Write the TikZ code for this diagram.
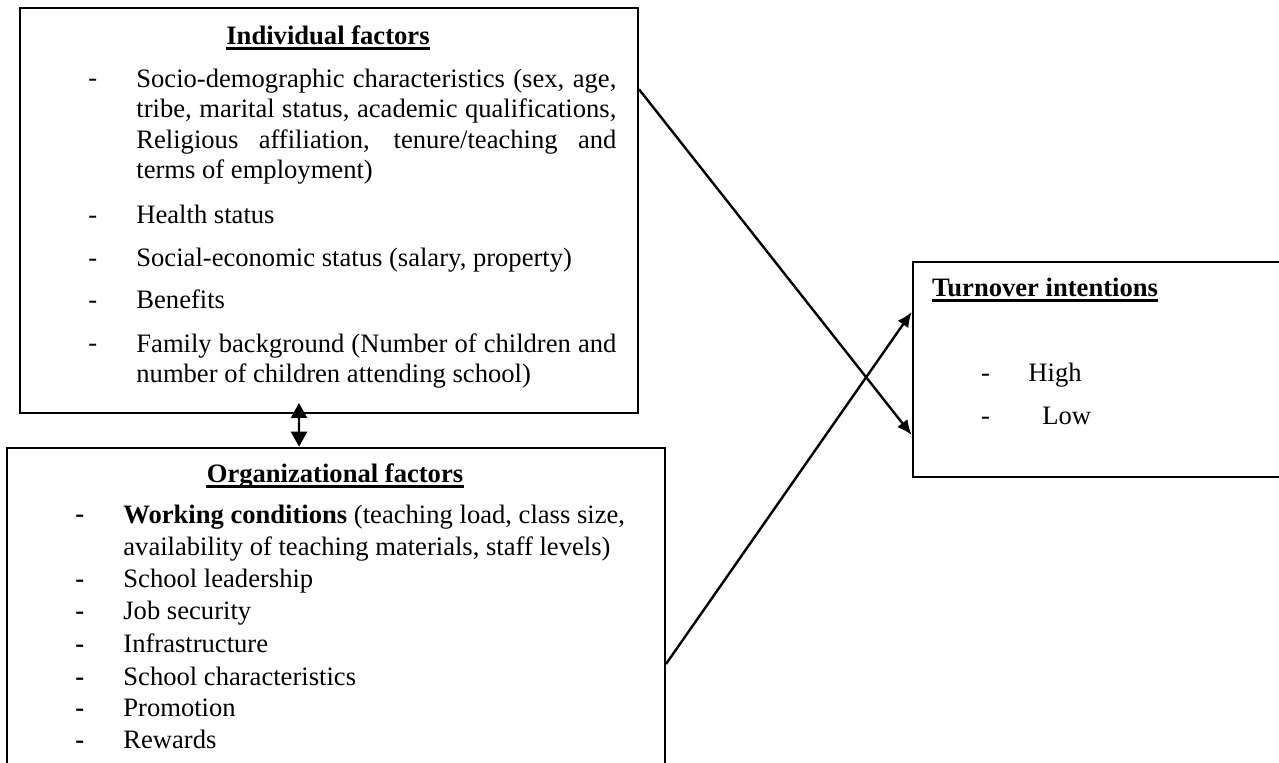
\documentclass[tikz,border=0pt]{standalone}
\usepackage{fontspec}
\setmainfont{Liberation Serif}
\usetikzlibrary{arrows.meta,calc}

\newcommand{\bodyfont}{\fontsize{13.3}{15.25}\selectfont\hyphenpenalty=10000\exhyphenpenalty=10000\tolerance=9999}
\newcommand{\orgfont}{\fontsize{13.3}{16}\selectfont}

\begin{document}
\begin{tikzpicture}[x=0.5pt,y=-0.5pt]  %one unit = one pixel, y runs downwards
    \tikzset{
      box/.style={draw, line width=1pt, rectangle, inner sep=0pt, anchor=north west},
      txt/.style={inner sep=0pt, anchor=base west, font=\bodyfont},
      ttl/.style={inner sep=0pt, anchor=base, font=\bodyfont\bfseries},
      para/.style={inner sep=0pt, anchor=north west, font=\bodyfont, text width=240pt, align=justify},
      uline/.style={line width=1.4pt},
      conn/.style={line width=1.2pt, -{Latex[length=7.5pt,width=6.5pt]}},
      both/.style={line width=1.2pt, {Triangle[length=7.5pt,width=8pt]}-{Triangle[length=7.5pt,width=8pt]}}
    }
    \clip (0,0) rectangle (1279,763);  %picture frame, lower box runs off the page

    % individual factors
    \def\dx{88};  \def\tx{136};   %dash column, text column
    \node[box, minimum width=309pt, minimum height=202.2pt] (indiv) at (19,7.3) {};
    \node[ttl] (indivT) at (328,45) {Individual factors};
    \draw[uline] ([yshift=-1.8pt]indivT.base west) -- ([yshift=-1.8pt]indivT.base east);

    \node[txt] (d1) at (\dx,87) {-};
    \node[para] (i1) at (\tx,65.65) {\noindent\strut Socio-demographic characteristics (sex, age, tribe, marital status, academic qualifications, Religious affiliation, tenure/teaching and terms of employment)};
    \node[txt] (d2) at (\dx,224) {-};
    \node[txt] (i2) at (\tx,224) {Health status};
    \node[txt] (d3) at (\dx,267) {-};
    \node[txt] (i3) at (\tx,267) {Social-economic status (salary, property)};
    \node[txt] (d4) at (\dx,309) {-};
    \node[txt] (i4) at (\tx,309) {Benefits};
    \node[txt] (d5) at (\dx,352) {-};
    \node[para] (i5) at (\tx,330.65) {\noindent\strut Family background (Number of children and number of children attending school)};

    % organizational factors
    \def\dx{75};  \def\tx{123};
    \node[box, minimum width=329.15pt, minimum height=180pt] (org) at (5.7,446.7) {};
    \node[ttl] (orgT) at (335,483) {Organizational factors};
    \draw[uline] ([yshift=-1.8pt]orgT.base west) -- ([yshift=-1.8pt]orgT.base east);

    \node[txt, font=\bodyfont\bfseries] (e1) at (\dx,523) {-};
    \node[inner sep=0pt, anchor=north west, font=\orgfont, align=left] (o1) at (\tx,500.6)
      {\strut\textbf{Working conditions} (teaching load, class size,\\availability of teaching materials, staff levels)};
    \node[txt, font=\bodyfont\bfseries] (e2) at (\dx,588) {-};
    \node[txt] (o2) at (\tx,588) {School leadership};
    \node[txt, font=\bodyfont\bfseries] (e3) at (\dx,620) {-};
    \node[txt] (o3) at (\tx,620) {Job security};
    \node[txt, font=\bodyfont\bfseries] (e4) at (\dx,653) {-};
    \node[txt] (o4) at (\tx,653) {Infrastructure};
    \node[txt, font=\bodyfont\bfseries] (e5) at (\dx,685) {-};
    \node[txt] (o5) at (\tx,685) {School characteristics};
    \node[txt, font=\bodyfont\bfseries] (e6) at (\dx,717) {-};
    \node[txt] (o6) at (\tx,717) {Promotion};
    \node[txt, font=\bodyfont\bfseries] (e7) at (\dx,748) {-};
    \node[txt] (o7) at (\tx,748) {Rewards};

    % turnover intentions
    \node[box, minimum width=183.5pt, minimum height=107.5pt] (turn) at (911.7,260.7) {};
    \node[txt, font=\bodyfont\bfseries] (turnT) at (931.7,296.7) {Turnover intentions};
    \draw[uline] ([yshift=-1.8pt]turnT.base west) -- ([yshift=-1.8pt]turnT.base east);
    \node[txt] (h0) at (980.7,381.7) {-};
    \node[txt] (h1) at (1028,381.7) {High};
    \node[txt] (l0) at (980.7,425) {-};
    \node[txt] (l1) at (1042,425) {Low};

    % connectors
    \draw[both] ([xshift=-18.4pt]org.north) -- ([xshift=-15pt,yshift=5.35pt]indiv.south);
    \draw[conn] ([yshift=-41pt]indiv.north east) -- ([yshift=21.35pt]turn.south west);
    \draw[conn] ([yshift=-108.65pt]org.north east) -- ([yshift=-25.65pt]turn.north west);
\end{tikzpicture}
\end{document}
